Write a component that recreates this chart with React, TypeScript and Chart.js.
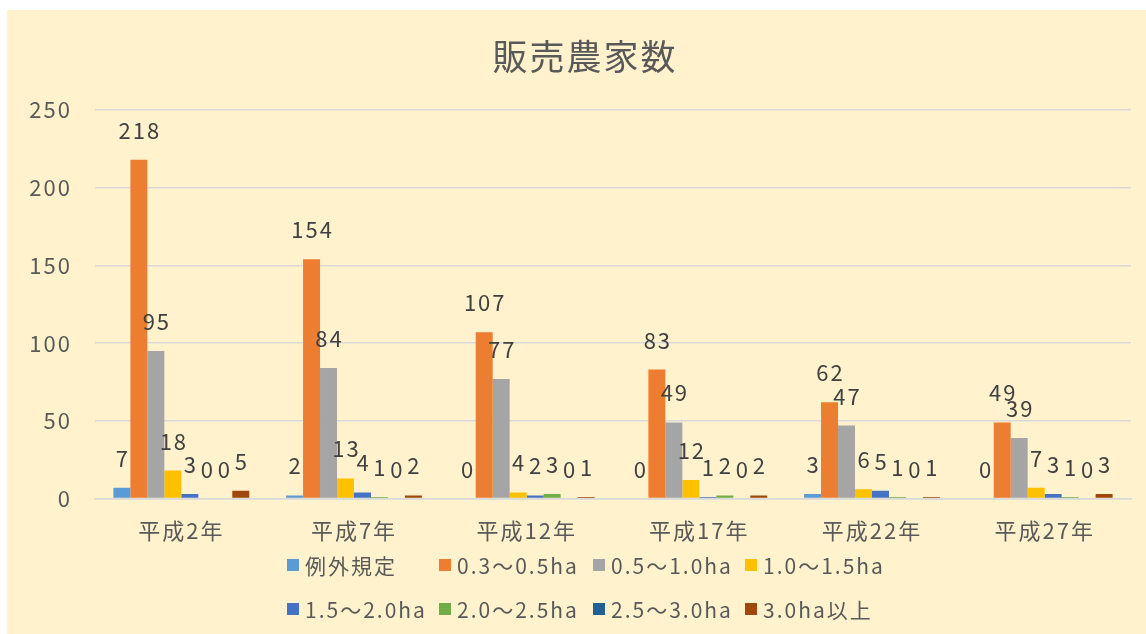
import React, { useEffect, useRef } from "react";
import { Chart, registerables } from "chart.js";

Chart.register(...registerables);

const FONT = "'Noto Sans CJK JP', 'Noto Sans', sans-serif";

const chartTitle = "販売農家数";
const categories = ["平成2年", "平成7年", "平成12年", "平成17年", "平成22年", "平成27年"];
const seriesNames = [
  "例外規定",
  "0.3～0.5ha",
  "0.5～1.0ha",
  "1.0～1.5ha",
  "1.5～2.0ha",
  "2.0～2.5ha",
  "2.5～3.0ha",
  "3.0ha以上",
];
const reigai = [7, 2, 0, 0, 3, 0];
const ha03to05 = [218, 154, 107, 83, 62, 49];
const ha05to10 = [95, 84, 77, 49, 47, 39];
const ha10to15 = [18, 13, 4, 12, 6, 7];
const ha15to20 = [3, 4, 2, 1, 5, 3];
const ha20to25 = [0, 1, 3, 2, 1, 1];
const ha25to30 = [0, 0, 0, 0, 0, 0];
const ha30plus = [5, 2, 1, 2, 1, 3];
const seriesValues = [reigai, ha03to05, ha05to10, ha10to15, ha15to20, ha20to25, ha25to30, ha30plus];
const seriesColors = ["#5B9BD5", "#ED7D31", "#A5A5A5", "#FFC000", "#4472C4", "#70AD47", "#255E91", "#9E480E"];
const yTickValues = [0, 50, 100, 150, 200, 250];

const TEXT = "#595959";
const LABEL = "#404040";
const GRID = "#D9D9D9";
const BG = "#FFF2CC";

const W = 1139;
const H = 624;

const spacingPlugin = {
  id: "spacing",
  beforeUpdate(chart: any) {
    chart.ctx.letterSpacing = "2px";
  },
  beforeDraw(chart: any) {
    chart.ctx.letterSpacing = "2px";
  },
};

const titlePlugin = {
  id: "customTitle",
  afterDraw(chart: any) {
    const ctx = chart.ctx;
    ctx.save();
    ctx.letterSpacing = "2px";
    ctx.font = `35px ${FONT}`;
    ctx.fillStyle = TEXT;
    ctx.textAlign = "center";
    ctx.textBaseline = "middle";
    ctx.fillText(chartTitle, 578, 47);
    ctx.restore();
  },
};

const dataLabelPlugin = {
  id: "dataLabels",
  afterDatasetsDraw(chart: any) {
    const ctx = chart.ctx;
    ctx.save();
    ctx.letterSpacing = "2px";
    ctx.font = `22px ${FONT}`;
    ctx.fillStyle = LABEL;
    ctx.textAlign = "center";
    ctx.textBaseline = "alphabetic";
    chart.data.datasets.forEach((ds: any, i: number) => {
      const meta = chart.getDatasetMeta(i);
      meta.data.forEach((bar: any, j: number) => {
        ctx.fillText(String(ds.data[j]), bar.x + 1, bar.y - 21);
      });
    });
    ctx.restore();
  },
};

const legendColumns = [280, 432, 586, 738];
const legendRows = [555, 599];

const customLegendPlugin = {
  id: "customLegend",
  afterDraw(chart: any) {
    const ctx = chart.ctx;
    ctx.save();
    ctx.letterSpacing = "2px";
    ctx.font = `21px ${FONT}`;
    ctx.textAlign = "left";
    ctx.textBaseline = "middle";
    chart.data.datasets.forEach((ds: any, i: number) => {
      const col = i % 4;
      const row = Math.floor(i / 4);
      const x = legendColumns[col];
      const y = legendRows[row];
      ctx.fillStyle = ds.backgroundColor;
      ctx.fillRect(x, y - 6, 12, 12);
      ctx.fillStyle = TEXT;
      ctx.fillText(ds.label, x + 18, y + 1);
    });
    ctx.restore();
  },
};

export default function App() {
  const ref = useRef<HTMLCanvasElement | null>(null);

  useEffect(() => {
    if (!ref.current) return;
    const chart = new Chart(ref.current, {
      type: "bar",
      data: {
        labels: categories,
        datasets: seriesNames.map((name, i) => ({
          label: name,
          data: seriesValues[i],
          backgroundColor: seriesColors[i],
          borderWidth: 0,
          categoryPercentage: 0.787,
          barPercentage: 1.0,
        })),
      },
      options: {
        responsive: false,
        animation: false,
        devicePixelRatio: 1,
        layout: { padding: { top: 100, left: 0, right: 15, bottom: 71 } },
        plugins: {
          legend: { display: false },
          tooltip: { enabled: false },
          title: { display: false },
        },
        scales: {
          x: {
            grid: { display: false, drawTicks: false },
            border: { display: true, color: GRID, width: 1.5 },
            ticks: {
              color: TEXT,
              font: { family: FONT, size: 22 },
              padding: 19,
              maxRotation: 0,
              autoSkip: false,
            },
          },
          y: {
            min: 0,
            max: 250,
            afterBuildTicks: (scale: any) => {
              scale.ticks = yTickValues.map((v) => ({ value: v }));
            },
            ticks: {
              color: TEXT,
              font: { family: FONT, size: 22 },
              padding: 23,
            },
            grid: { color: GRID, lineWidth: 1.5, drawTicks: false },
            border: { display: false },
            afterFit: (scale: any) => {
              scale.width = 88;
            },
          },
        },
      },
      plugins: [spacingPlugin, dataLabelPlugin, customLegendPlugin, titlePlugin],
    } as any);
    return () => chart.destroy();
  }, []);

  return (
    <div
      style={{
        position: "absolute",
        left: 7,
        top: 10,
        width: W,
        height: H,
        background: BG,
      }}
    >
      <canvas ref={ref} width={W} height={H} style={{ display: "block" }} />
    </div>
  );
}
